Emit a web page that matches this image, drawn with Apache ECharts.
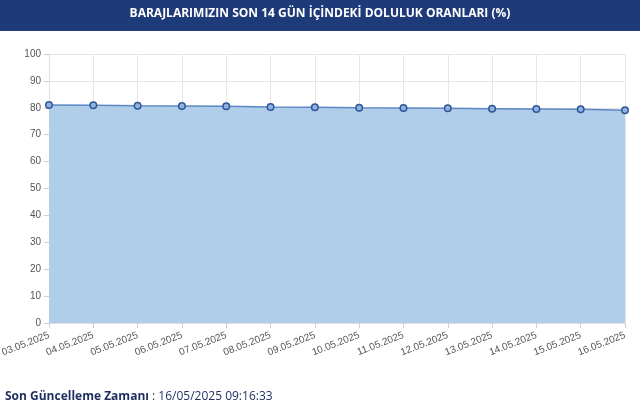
<!DOCTYPE html>
<html>
<head>
<meta charset="utf-8">
<script src="https://cdn.jsdelivr.net/npm/echarts@6/dist/echarts.min.js"></script>
<style>
html,body{margin:0;padding:0;background:#fff;}
#c{width:640px;height:413px;}
</style>
</head>
<body>
<div id="c"></div>
<script>
const categories = ["03.05.2025","04.05.2025","05.05.2025","06.05.2025","07.05.2025","08.05.2025","09.05.2025","10.05.2025","11.05.2025","12.05.2025","13.05.2025","14.05.2025","15.05.2025","16.05.2025"];
const fillRates = [81.04,80.93,80.78,80.67,80.56,80.30,80.19,80.04,79.93,79.81,79.67,79.55,79.44,79.07];
const yTicks = [0,10,20,30,40,50,60,70,80,90,100];
const titleText = "BARAJLARIMIZIN SON 14 GÜN İÇİNDEKİ DOLULUK ORANLARI (%)";
const footerLabel = "Son Güncelleme Zamanı";
const footerValue = " : 16/05/2025 09:16:33";

const chart = echarts.init(document.getElementById('c'), null, {renderer:'canvas'});
chart.setOption({
  animation:false,
  backgroundColor:'#ffffff',
  graphic:[
    {type:'rect', shape:{x:0,y:0,width:640,height:31}, style:{fill:'#1e3a78'}, z:0},
    {type:'text', x:320, y:14, style:{text:titleText, fill:'#ffffff', font:'bold 12px "Open Sans", Lato, sans-serif', textAlign:'center', textVerticalAlign:'middle'}},
    {type:'text', x:5, y:397, style:{rich:{a:{fill:'#1e2d5e', font:'bold 12px "Open Sans", Lato, sans-serif'}, b:{fill:'#1e2d5e', font:'12px "Open Sans", Lato, sans-serif'}}, text:'{a|'+footerLabel+'}{b|'+footerValue+'}', textVerticalAlign:'middle'}}
  ],
  grid:{left:49, right:15, top:54, bottom:90, containLabel:false, outerBoundsMode:'none'},
  xAxis:{
    type:'category', data:categories, boundaryGap:false,
    axisLine:{show:true, lineStyle:{color:'#e0e0e0'}},
    axisTick:{show:true, alignWithLabel:true, length:5, lineStyle:{color:'#d0d0d0'}},
    splitLine:{show:true, lineStyle:{color:'#e6e6e6'}},
    axisLabel:{color:'#555', fontSize:10, fontFamily:'"Liberation Sans", Arial, sans-serif', rotate:21, interval:0, margin:12}
  },
  yAxis:{
    type:'value', min:0, max:100, interval:10,
    axisLine:{show:true, lineStyle:{color:'#e0e0e0'}},
    axisTick:{show:true, length:5, lineStyle:{color:'#d0d0d0'}},
    splitLine:{show:true, lineStyle:{color:'#e6e6e6'}},
    axisLabel:{color:'#555', fontSize:10, fontFamily:'"Liberation Sans", Arial, sans-serif', margin:8}
  },
  series:[{
    type:'line', data:fillRates,
    symbol:'circle', symbolSize:6.5, showSymbol:true,
    itemStyle:{color:'#8fb3e0', borderColor:'#2f5597', borderWidth:1.5},
    lineStyle:{color:'#5b87c2', width:1.5},
    areaStyle:{color:'#b0cdea', opacity:1}
  }]
});
</script>
</body>
</html>
